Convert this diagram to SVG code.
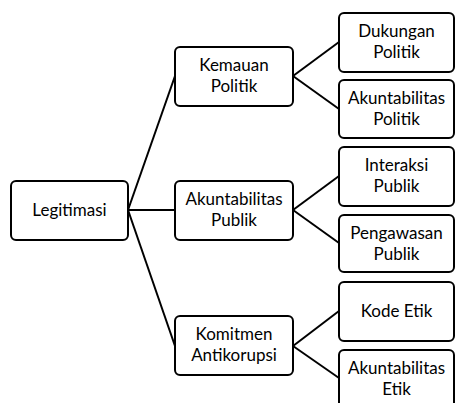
<svg xmlns="http://www.w3.org/2000/svg" width="455" height="403" viewBox="0 0 455 403">
<style>
.box{fill:#fff;stroke:#000;stroke-width:2}
.t{font-family:Lato,"Open Sans",sans-serif;font-size:17px;fill:#000;text-anchor:middle}
.c{stroke:#000;stroke-width:2;fill:none}
</style>
<rect width="455" height="403" fill="#fff"/>
<g id="connectors">
<line class="c" x1="128" y1="210" x2="175" y2="76"/>
<line class="c" x1="128" y1="210" x2="175" y2="210"/>
<line class="c" x1="128" y1="210" x2="175" y2="346"/>
<line class="c" x1="293" y1="76" x2="339" y2="42"/>
<line class="c" x1="293" y1="76" x2="339" y2="109"/>
<line class="c" x1="293" y1="210" x2="339" y2="176"/>
<line class="c" x1="293" y1="210" x2="339" y2="243"/>
<line class="c" x1="293" y1="346" x2="339" y2="311"/>
<line class="c" x1="293" y1="346" x2="339" y2="378"/>
</g>
<g id="legitimasi"><rect class="box" x="11" y="181" width="117" height="59" rx="5"/><text class="t" x="69.5" y="216">Legitimasi</text></g>
<g id="kemauan"><rect class="box" x="175" y="47" width="118" height="59" rx="5"/><text class="t" x="234" y="71">Kemauan</text><text class="t" x="234" y="92">Politik</text></g>
<g id="akuntabilitas-publik"><rect class="box" x="175" y="181" width="118" height="59" rx="5"/><text class="t" x="234" y="205">Akuntabilitas</text><text class="t" x="234" y="226">Publik</text></g>
<g id="komitmen"><rect class="box" x="175" y="316" width="118" height="59" rx="5"/><text class="t" x="234" y="340">Komitmen</text><text class="t" x="234" y="361">Antikorupsi</text></g>
<g id="dukungan"><rect class="box" x="339" y="13" width="115" height="59" rx="5"/><text class="t" x="396.5" y="37">Dukungan</text><text class="t" x="396.5" y="58">Politik</text></g>
<g id="akuntabilitas-politik"><rect class="box" x="339" y="80" width="115" height="58" rx="5"/><text class="t" x="396.5" y="104">Akuntabilitas</text><text class="t" x="396.5" y="125">Politik</text></g>
<g id="interaksi"><rect class="box" x="339" y="147" width="115" height="59" rx="5"/><text class="t" x="396.5" y="171">Interaksi</text><text class="t" x="396.5" y="192">Publik</text></g>
<g id="pengawasan"><rect class="box" x="339" y="215" width="115" height="57" rx="5"/><text class="t" x="396.5" y="239">Pengawasan</text><text class="t" x="396.5" y="260">Publik</text></g>
<g id="kode-etik"><rect class="box" x="339" y="282" width="115" height="59" rx="5"/><text class="t" x="396.5" y="317">Kode Etik</text></g>
<g id="akuntabilitas-etik"><rect class="box" x="339" y="350" width="115" height="58" rx="5"/><text class="t" x="396.5" y="374">Akuntabilitas</text><text class="t" x="396.5" y="395">Etik</text></g>
</svg>
